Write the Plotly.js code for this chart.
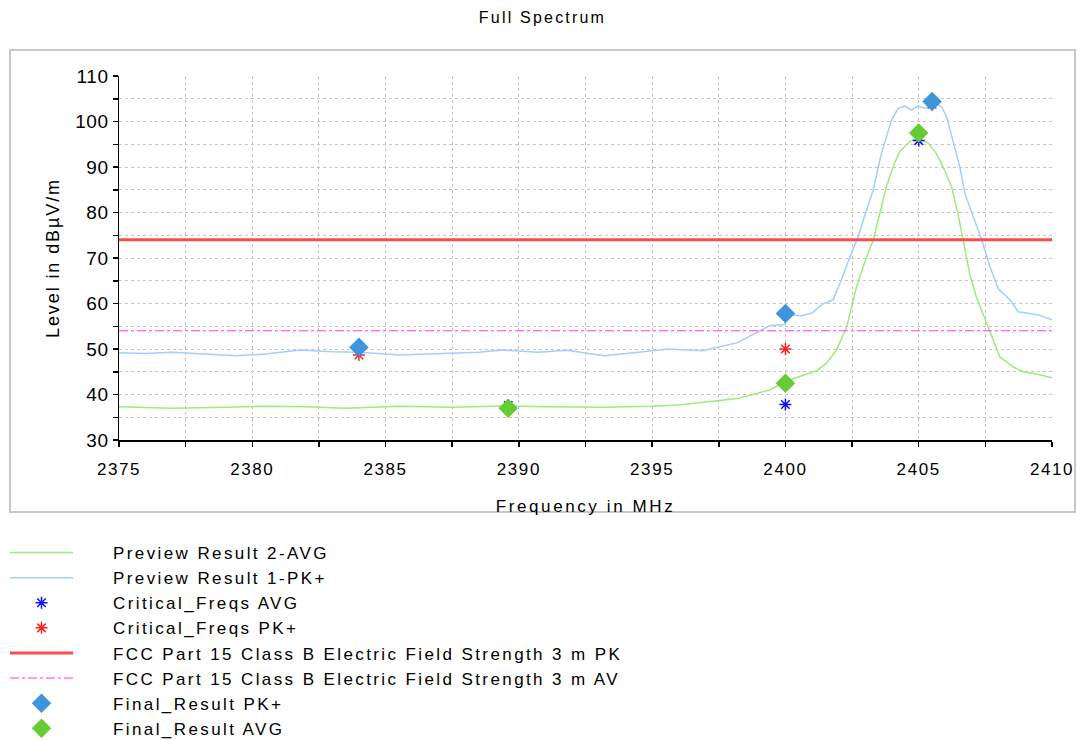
<!DOCTYPE html>
<html>
<head>
<meta charset="utf-8">
<script src="https://cdn.plot.ly/plotly-3.0.1.min.js"></script>
<style>
  html, body { margin: 0; padding: 0; background: #fff; }
  #chart { width: 1085px; height: 740px; }
  .gtitle { letter-spacing: 2.2px; }
  .legendtext { letter-spacing: 2.4px; transform: translate(35px, 0px); }
  .legend .scrollbox, .legend g[clip-path] { clip-path: none !important; }
  .xtitle { letter-spacing: 2.6px; }
  .ytitle { letter-spacing: 1.9px; }
  .xtick text { letter-spacing: 1.6px; }
  .ytick text { letter-spacing: 0.6px; }
</style>
</head>
<body>
<div id="chart"></div>
<script>
// ---- Data ----
const pkFreq = [2375, 2376, 2377, 2378.5, 2379.4, 2380.5, 2381.8, 2383, 2384, 2385.5, 2387, 2388.5,
  2389.4, 2390.7, 2391.8, 2393.2, 2394.5, 2395.6, 2396.9, 2398.2, 2399.4, 2399.95, 2400.1, 2400.6,
  2401.0, 2401.4, 2401.79, 2402.1, 2402.42, 2402.73, 2403.04, 2403.29, 2403.6, 2403.98, 2404.23,
  2404.48, 2404.73, 2404.98, 2405.23, 2405.48, 2405.73, 2405.85, 2406.04, 2406.3, 2406.54, 2406.73,
  2407.04, 2407.36, 2407.67, 2407.98, 2408.42, 2408.73, 2409.05, 2409.48, 2410];
const pkLevel = [49.2, 49.0, 49.3, 48.8, 48.5, 48.9, 49.8, 49.4, 49.3, 48.7, 49.0, 49.3,
  49.8, 49.3, 49.7, 48.5, 49.3, 50.0, 49.6, 51.4, 55.1, 55.4, 57.5, 57.3,
  57.9, 59.9, 60.8, 65.2, 70.3, 74.7, 80.5, 84.9, 93.0, 100.3, 102.9,
  103.4, 102.5, 103.4, 102.9, 103.4, 103.6, 103.3, 101.1, 95.2, 90.1, 84.2,
  79.1, 74.0, 68.1, 63.3, 60.8, 58.2, 57.9, 57.5, 56.4];

const avgFreq = [2375, 2377, 2379, 2380.5, 2382, 2383.5, 2385.5, 2387.5, 2389.4, 2391, 2393.2, 2395,
  2396, 2397, 2398.2, 2399.4, 2400, 2400.5, 2401.17, 2401.54, 2401.92, 2402.3, 2402.67, 2403.0,
  2403.3, 2403.54, 2403.79, 2404.04, 2404.29, 2404.66, 2404.98, 2405.35, 2405.66, 2405.91, 2406.23,
  2406.47, 2406.66, 2406.91, 2407.16, 2407.67, 2408.04, 2408.54, 2408.91, 2409.41, 2410];
const avgLevel = [37.3, 37.0, 37.2, 37.4, 37.3, 37.0, 37.4, 37.2, 37.5, 37.3, 37.2, 37.4,
  37.7, 38.3, 39.1, 41.0, 42.8, 43.9, 45.2, 46.9, 49.8, 54.9, 63.7, 69.5,
  74.0, 79.8, 85.7, 90.1, 93.4, 95.6, 96.3, 95.3, 93.0, 90.1, 85.7,
  79.8, 74.0, 66.6, 61.5, 54.0, 48.3, 46.1, 45.0, 44.5, 43.7];

const critAvgFreq = [2389.6, 2400, 2405];
const critAvgLevel = [37.6, 37.8, 95.8];
const critPkFreq = [2384, 2400, 2405.5];
const critPkLevel = [48.7, 50.0, 103.8];

const finalPkFreq = [2384, 2400, 2405.5];
const finalPkLevel = [50.4, 57.8, 104.4];
const finalAvgFreq = [2389.6, 2400, 2405];
const finalAvgLevel = [37.0, 42.5, 97.5];

const limitFreq = [2375, 2410];
const limitPk = [74, 74];
const limitAv = [54, 54];

const xTickVals = [2375, 2380, 2385, 2390, 2395, 2400, 2405, 2410];
const yTickVals = [30, 40, 50, 60, 70, 80, 90, 100, 110];

const names = [
  'Preview Result 2-AVG',
  'Preview Result 1-PK+',
  'Critical_Freqs AVG',
  'Critical_Freqs PK+',
  'FCC Part 15 Class B Electric Field Strength 3 m PK',
  'FCC Part 15 Class B Electric Field Strength 3 m AV',
  'Final_Result PK+',
  'Final_Result AVG'
];

// ---- Traces ----
const traces = [
  { x: avgFreq, y: avgLevel, name: names[0], mode: 'lines', legendgroup: 'g0',
    line: { color: '#99ee77', width: 1.5 } },
  { x: pkFreq, y: pkLevel, name: names[1], mode: 'lines', legendgroup: 'g1',
    line: { color: '#a3ceff', width: 1.5 } },
  { x: critAvgFreq, y: critAvgLevel, name: names[2], mode: 'markers', legendgroup: 'g2',
    marker: { symbol: 'asterisk-open', size: 10, color: '#1010ff', line: { color: '#1010ff', width: 1.5 } } },
  { x: critPkFreq, y: critPkLevel, name: names[3], mode: 'markers', legendgroup: 'g3',
    marker: { symbol: 'asterisk-open', size: 10, color: '#ff2020', line: { color: '#ff2020', width: 1.5 } } },
  { x: limitFreq, y: limitPk, name: names[4], mode: 'lines', legendgroup: 'g4',
    line: { color: '#ff4a4a', width: 3 } },
  { x: limitFreq, y: limitAv, name: names[5], mode: 'lines', legendgroup: 'g5',
    line: { color: '#ff33ff', width: 1, dash: 'dashdot' } },
  { x: finalPkFreq, y: finalPkLevel, name: names[6], mode: 'markers', legendgroup: 'g6',
    marker: { symbol: 'diamond', size: 15, color: '#3d95dd' } },
  { x: finalAvgFreq, y: finalAvgLevel, name: names[7], mode: 'markers', legendgroup: 'g7',
    marker: { symbol: 'diamond', size: 15, color: '#66cc33' } }
];

const gridCol = '#c4c4c4';
const font = 'Arial, "Liberation Sans", sans-serif';

const layout = {
  width: 1085, height: 740,
  paper_bgcolor: '#ffffff', plot_bgcolor: '#ffffff',
  margin: { l: 119, r: 33, t: 76, b: 300, autoexpand: false },
  font: { family: font, color: '#000000' },
  title: { text: 'Full Spectrum', font: { size: 16, family: font, color: '#000' },
    x: 0.5, xref: 'container', xanchor: 'center', y: 1 - 17 / 740, yref: 'container', yanchor: 'middle' },
  showlegend: true,
  hovermode: false,
  xaxis: {
    range: [2375, 2410], tickmode: 'array', tickvals: xTickVals,
    ticks: 'outside', ticklen: 5, tickwidth: 1.5, tickcolor: '#000',
    showline: true, linecolor: '#000', linewidth: 1.5,
    showgrid: true, gridcolor: gridCol, griddash: 'dot', gridwidth: 1,
    minor: { dtick: 2.5, tick0: 2375, ticks: 'outside', ticklen: 5, tickwidth: 1.5, tickcolor: '#000',
      showgrid: true, gridcolor: gridCol, griddash: 'dot', gridwidth: 1 },
    zeroline: false,
    tickfont: { size: 17, family: font, color: '#000' },
    ticklabelstandoff: 8,
    title: { text: 'Frequency in MHz', font: { size: 17, family: font, color: '#000' }, standoff: 22 }
  },
  yaxis: {
    range: [30, 110], tickmode: 'array', tickvals: yTickVals,
    ticks: 'outside', ticklen: 5, tickwidth: 1.5, tickcolor: '#000',
    showline: true, linecolor: '#000', linewidth: 1.5,
    showgrid: true, gridcolor: gridCol, griddash: 'dot', gridwidth: 1,
    minor: { dtick: 5, tick0: 30, ticks: 'outside', ticklen: 5, tickwidth: 1.5, tickcolor: '#000',
      showgrid: true, gridcolor: gridCol, griddash: 'dot', gridwidth: 1 },
    zeroline: false,
    tickfont: { size: 19, family: font, color: '#000' },
    title: { text: 'Level in dBµV/m', font: { size: 18, family: font, color: '#000' }, standoff: 11 }
  },
  legend: {
    x: (5 - 119) / 933, xanchor: 'left',
    y: (440 - 535) / 364, yanchor: 'top',
    orientation: 'v',
    itemwidth: 63,
    tracegroupgap: 0,
    font: { size: 17, family: font, color: '#000' },
    bgcolor: 'rgba(0,0,0,0)', borderwidth: 0
  },
  shapes: [
    { type: 'rect', xref: 'paper', yref: 'paper', layer: 'below',
      x0: (10 - 119) / 933, x1: (1075 - 119) / 933, y0: (440 - 512) / 364, y1: (440 - 50) / 364,
      line: { color: '#c8c8c8', width: 2 }, fillcolor: 'rgba(0,0,0,0)' }
  ]
};

Plotly.newPlot('chart', traces, layout, { displayModeBar: false, staticPlot: true });
</script>
</body>
</html>
